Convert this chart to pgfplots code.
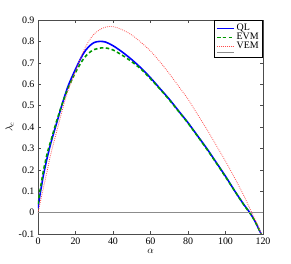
\documentclass[border=0pt]{standalone}
\usepackage{pgfplots}
\pgfplotsset{compat=1.18}
\usepackage{fontspec}
\setmainfont{Liberation Serif}
\begin{document}
\begin{tikzpicture}
\begin{axis}[
  scale only axis, width=225bp, height=214bp,
  xmin=0, xmax=120, ymin=-0.1, ymax=0.9,
  xtick={0,20,...,120},
  ytick={-0.1,0,0.1,0.2,0.3,0.4,0.5,0.6,0.7,0.8,0.9},
  yticklabel style={/pgf/number format/fixed},
  /pgf/number format/assume math mode=true,
  tick align=inside, tick pos=both,
  major tick length=3bp,
  axis line style={black!70},
  every tick/.style={black!70},
  xlabel={$\alpha$}, ylabel={$\lambda_c$},
  xlabel style={yshift=2bp}, ylabel style={yshift=-2bp},
  tick label style={font=\normalsize},
  legend style={at={(1,1)}, anchor=north east, font=\normalsize, draw=black, line width=0.6pt, row sep=-3pt, inner sep=2pt},
  legend cell align=left,
]
\addplot[blue, line width=1.6pt, smooth] coordinates {
(0,0.02) (1,0.08) (2,0.13) (3,0.18) (5,0.26) (7,0.33) (10,0.42) (13,0.51) (16,0.59) (20,0.67) (24,0.74) (27,0.775) (30,0.795) (33,0.80) (36,0.797) (40,0.78) (45,0.75) (50,0.715) (55,0.675) (60,0.63) (65,0.58) (70,0.53) (75,0.475) (80,0.42) (85,0.36) (90,0.30) (95,0.235) (100,0.17) (105,0.10) (110,0.035) (113,0) (116,-0.045) (119,-0.1)};
\addlegendentry{QL}
\addplot[green!60!black, line width=1.6pt, dash pattern=on 3.5pt off 2.5pt, smooth] coordinates {
(0,0.04) (1,0.10) (2,0.15) (3,0.20) (5,0.28) (7,0.34) (10,0.43) (13,0.51) (16,0.58) (20,0.655) (24,0.715) (27,0.745) (30,0.762) (34,0.77) (37,0.768) (40,0.76) (45,0.735) (50,0.705) (55,0.67) (60,0.625) (65,0.578) (70,0.527) (75,0.473) (80,0.418) (85,0.358) (90,0.297) (95,0.233) (100,0.167) (105,0.10) (110,0.033) (113,-0.002) (116,-0.045) (119,-0.1)};
\addlegendentry{EVM}
\addplot[red!70, line width=0.8pt, dash pattern=on 0.8pt off 1.2pt, smooth] coordinates {
(0,0.0) (1,0.04) (2,0.08) (3,0.12) (5,0.20) (7,0.28) (10,0.38) (13,0.48) (16,0.57) (20,0.66) (24,0.75) (27,0.80) (30,0.835) (34,0.86) (38,0.87) (42,0.865) (46,0.85) (50,0.83) (55,0.795) (60,0.755) (65,0.705) (70,0.65) (75,0.59) (80,0.53) (85,0.46) (90,0.39) (95,0.315) (100,0.24) (105,0.16) (110,0.075) (114,0) (117,-0.055) (119,-0.1)};
\addlegendentry{VEM}
\addplot[black!45, line width=0.5pt] coordinates {(0,0) (120,0)};
\addlegendentry{}
\end{axis}
\pgfresetboundingbox
\path (current axis.south west) ++(-38bp,-30bp) coordinate (a);
\path (current axis.north east) ++(28bp,20bp) coordinate (b);
\path (a) rectangle (b);
\end{tikzpicture}
\end{document}
